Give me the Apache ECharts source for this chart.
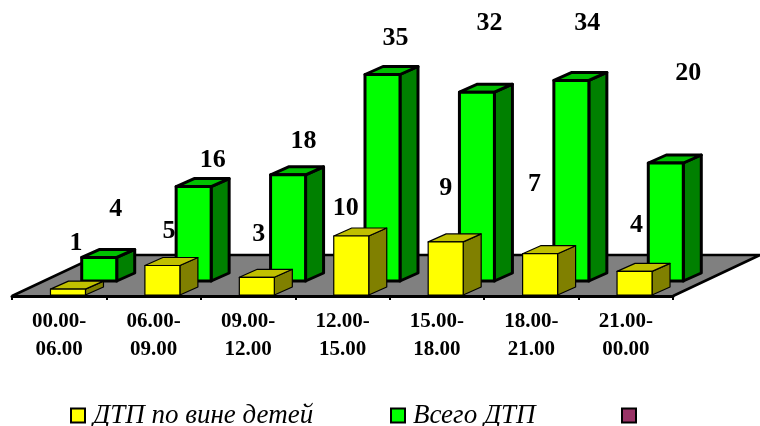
<!DOCTYPE html>
<html>
<head>
<meta charset="utf-8">
<style>html,body{margin:0;padding:0;background:#fff}#c{width:760px;height:426px}</style>
<script src="https://cdn.jsdelivr.net/npm/echarts@6/dist/echarts.min.js"></script>
</head>
<body>
<div id="c"></div>
<script>
const categories = ['00.00-\n06.00','06.00-\n09.00','09.00-\n12.00','12.00-\n15.00','15.00-\n18.00','18.00-\n21.00','21.00-\n00.00'];
const childFault = [1,5,3,10,9,7,4];
const totalCrashes = [4,16,18,35,32,34,20];

// hand-placed label offsets, as in the original (dx, dy from bar's front-top centre)
const childLabelOffsets = [[8,-46],[6.5,-34],[2,-43],[-5.5,-28],[0,-54],[-5.5,-69],[2,-46]];
const totalLabelOffsets = [[16.5,-48],[19,-26],[15.5,-34],[13,-36],[12.5,-69],[16,-57],[22.5,-90]];

const SERIF = '"Liberation Serif","Times New Roman",serif';
const DEPTH_X = 18, DEPTH_Y = 8, BAR_W = 35;

function box(shiftX, shiftY, colors, lw, offsets) {
  return function (params, api) {
    const i = api.value(0), v = api.value(1);
    const base = api.coord([i, 0]), top = api.coord([i, v]);
    const xl = base[0] + shiftX - BAR_W / 2, xr = xl + BAR_W;
    const yb = base[1] - shiftY, yt = top[1] - shiftY;
    const style = c => ({fill: c, stroke: '#000', lineWidth: lw, lineJoin: 'round'});
    const poly = (pts, c) => ({type: 'polygon', shape: {points: pts}, style: style(c)});
    return {
      type: 'group',
      children: [
        poly([[xr,yb],[xr+DEPTH_X,yb-DEPTH_Y],[xr+DEPTH_X,yt-DEPTH_Y],[xr,yt]], colors[2]),
        poly([[xl,yt],[xr,yt],[xr+DEPTH_X,yt-DEPTH_Y],[xl+DEPTH_X,yt-DEPTH_Y]], colors[1]),
        poly([[xl,yb],[xr,yb],[xr,yt],[xl,yt]], colors[0]),
        {type: 'text', z2: 100, style: {
          text: String(v),
          x: (xl + xr) / 2 + offsets[i][0], y: yt + offsets[i][1],
          align: 'center', verticalAlign: 'middle',
          font: 'bold 26px ' + SERIF, fill: '#000'
        }}
      ]
    };
  };
}

function floor(params) {
  const s = params.coordSys, b = s.y + s.height, r = s.x + s.width, dx = 87, dy = 41;
  return {
    type: 'group',
    children: [
      {type: 'polygon', shape: {points: [[s.x,b],[r,b],[r+dx,b-dy],[s.x+dx,b-dy]]},
       style: {fill: '#808080', stroke: null}},
      {type: 'polyline', shape: {points: [[s.x,b],[s.x+dx,b-dy],[r+dx,b-dy],[r,b]]},
       style: {fill: null, stroke: '#000', lineWidth: 2.5}}
    ]
  };
}

const legendBase = {
  padding: 0, top: 402, itemWidth: 14, itemHeight: 14, icon: 'rect',
  textStyle: {fontFamily: SERIF, fontStyle: 'italic', fontSize: 27, color: '#000', padding: [9,0,0,3]}
};

const chart = echarts.init(document.getElementById('c'), null, {renderer: 'canvas'});
chart.setOption({
  animation: false,
  backgroundColor: '#fff',
  grid: {left: 12, width: 661, top: 60, height: 236},
  xAxis: {
    type: 'category', data: categories, boundaryGap: true, z: 5,
    axisLine: {lineStyle: {color: '#000', width: 3}},
    axisTick: {show: true, length: 4, alignWithLabel: false, lineStyle: {color: '#000', width: 2}},
    axisLabel: {interval: 0, margin: 12, lineHeight: 28, fontSize: 21, fontWeight: 'bold', fontFamily: SERIF, color: '#000'}
  },
  yAxis: {type: 'value', min: 0, max: 40, interval: 10, show: false},
  legend: [
    Object.assign({}, legendBase, {left: 70, data: ['ДТП по вине детей']}),
    Object.assign({}, legendBase, {left: 390, data: ['Всего ДТП']}),
    Object.assign({}, legendBase, {left: 621, data: [' ']})
  ],
  series: [
    {type: 'custom', name: 'floor', renderItem: floor, data: [[0,0]], z: 1, silent: true},
    {type: 'custom', name: 'Всего ДТП', z: 2, clip: false,
     itemStyle: {color: '#00ff00', borderColor: '#000', borderWidth: 2.5},
     renderItem: box(40, 15, ['#00ff00','#00c000','#008000'], 3, totalLabelOffsets),
     data: totalCrashes.map((v,i)=>[i,v]), encode: {x:0,y:1}},
    {type: 'custom', name: 'ДТП по вине детей', z: 3, clip: false,
     itemStyle: {color: '#ffff00', borderColor: '#000', borderWidth: 1.5},
     renderItem: box(8.75, 1, ['#ffff00','#c0c000','#808000'], 1.2, childLabelOffsets),
     data: childFault.map((v,i)=>[i,v]), encode: {x:0,y:1}},
    {type: 'custom', name: ' ', z: 3,
     itemStyle: {color: '#993366', borderColor: '#000', borderWidth: 2.5},
     renderItem: () => null, data: []}
  ]
});
</script>
</body>
</html>
